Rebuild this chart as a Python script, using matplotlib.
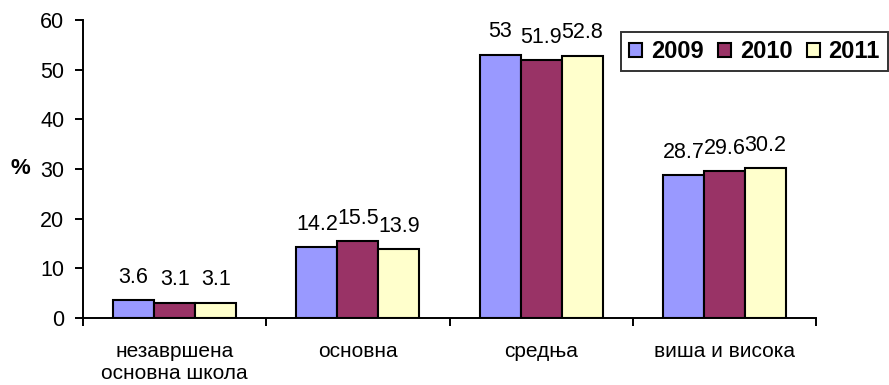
import matplotlib.pyplot as plt
import numpy as np

plt.rcParams['font.family'] = ['Liberation Sans', 'DejaVu Sans']

# Data
categories = ['незавршена\nосновна школа', 'основна', 'средња', 'виша и висока']
years = ['2009', '2010', '2011']
values_2009 = [3.6, 14.2, 53, 28.7]
values_2010 = [3.1, 15.5, 51.9, 29.6]
values_2011 = [3.1, 13.9, 52.8, 30.2]
label_2009 = ['3.6', '14.2', '53', '28.7']
label_2010 = ['3.1', '15.5', '51.9', '29.6']
label_2011 = ['3.1', '13.9', '52.8', '30.2']
y_ticks = [0, 10, 20, 30, 40, 50, 60]

colors = ['#9999FF', '#993366', '#FFFFCC']

fig = plt.figure(figsize=(8.89, 3.85), dpi=100)
ax = fig.add_axes([83 / 889, 1 - 318 / 385, 733 / 889, 298 / 385])

x = np.arange(len(categories))
width = 0.224
series = [values_2009, values_2010, values_2011]
labels = [label_2009, label_2010, label_2011]

for i, (vals, labs) in enumerate(zip(series, labels)):
    pos = x + (i - 1) * width
    bars = ax.bar(pos, vals, width, color=colors[i], edgecolor='black',
                  linewidth=1.5, label=years[i], zorder=3)
    for b, lab in zip(bars, labs):
        ax.annotate(lab, (b.get_x() + b.get_width() / 2, b.get_height()),
                    xytext=(0, 12.5), textcoords='offset points',
                    ha='center', va='baseline', fontsize=15.5)

ax.set_xlim(-0.5, len(categories) - 0.5)
ax.set_ylim(0, 60)
ax.set_yticks(y_ticks)
ax.tick_params(axis='y', labelsize=15.5, length=5.5, width=1.4, direction='out', pad=8)

# category boundaries as major ticks, names as minor tick labels
ax.set_xticks(np.arange(len(categories) + 1) - 0.5)
ax.set_xticklabels([])
ax.set_xticks(x, minor=True)
ax.set_xticklabels(categories, minor=True, fontsize=15, linespacing=1.22)
ax.tick_params(axis='x', which='major', length=5.5, width=1.4, direction='out')
ax.tick_params(axis='x', which='minor', length=0, pad=17)

for side in ['top', 'right']:
    ax.spines[side].set_visible(False)
for side in ['left', 'bottom']:
    ax.spines[side].set_linewidth(1.4)

ax.set_ylabel('%', rotation=0, fontsize=16, fontweight='bold', va='center', ha='center')
ax.yaxis.set_label_coords(-0.085, 0.5)

leg = fig.legend(loc='upper left', bbox_to_anchor=(621 / 889, 1 - 32 / 385),
                 ncol=3, frameon=True, fancybox=False, edgecolor='black',
                 prop={'weight': 'bold', 'size': 17}, handlelength=0.55,
                 handleheight=0.55, handletextpad=0.38, columnspacing=0.6,
                 borderpad=0.34, borderaxespad=0)
leg.get_frame().set_linewidth(1.4)

fig.savefig('out.png', dpi=100)
